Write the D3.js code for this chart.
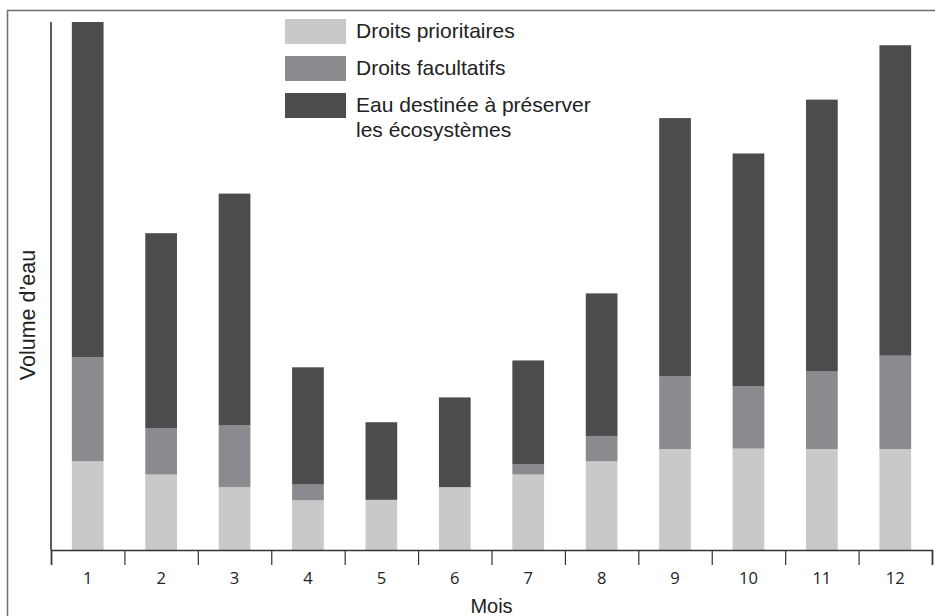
<!DOCTYPE html>
<html><head><meta charset="utf-8">
<script src="https://cdn.jsdelivr.net/npm/d3@7"></script>
<style>html,body{margin:0;padding:0;background:#fff;}svg{display:block;}</style>
</head><body>
<script>
const months = ["1","2","3","4","5","6","7","8","9","10","11","12"];
const droitsPrioritaires = [16.8, 14.3, 11.9, 9.4, 9.5, 11.9, 14.3, 16.8, 19.1, 19.2, 19.1, 19.1];
const droitsFacultatifs  = [19.7, 8.8, 11.7, 3.0, 0, 0, 1.9, 4.8, 13.8, 11.8, 14.8, 17.7];
const eauEcosystemes     = [63.5, 36.9, 43.9, 22.2, 14.7, 17.0, 19.7, 27.0, 48.9, 44.1, 51.4, 58.8];
const seriesNames = ["Droits prioritaires", "Droits facultatifs", "Eau destinée à préserver|les écosystèmes"];
const seriesKeys = ["p", "f", "e"];
const colors = ["#c8c9cb", "#8a8b8e", "#4b4c4e"];
const yMax = 100;

const W = 935, H = 616;
const svg = d3.select("body").append("svg").attr("width", W).attr("height", H);

// frame
svg.append("path").attr("d", `M7.5,${H} V10.5 H${W}`).attr("fill","none").attr("stroke","#6d6e70").attr("stroke-width",1.5);

const mLeft = 51, mRight = 932, mTop = 22, mBottom = 550;
const x = d3.scaleBand().domain(months).range([mLeft, mRight]).paddingInner(0.568).paddingOuter(0.284);
const y = d3.scaleLinear().domain([0, yMax]).range([mBottom, mTop]);

const table = months.map((m, i) => ({month: m, p: droitsPrioritaires[i], f: droitsFacultatifs[i], e: eauEcosystemes[i]}));
const stacked = d3.stack().keys(seriesKeys)(table);

svg.append("g").selectAll("g").data(stacked).join("g")
  .attr("fill", (d, i) => colors[i])
  .selectAll("rect").data(d => d).join("rect")
  .attr("x", d => x(d.data.month))
  .attr("width", x.bandwidth())
  .attr("y", d => y(d[1]))
  .attr("height", d => Math.max(0, y(d[0]) - y(d[1])));

// y axis line
svg.append("line").attr("x1", mLeft).attr("x2", mLeft).attr("y1", mTop).attr("y2", mBottom)
  .attr("stroke", "#333").attr("stroke-width", 1.6);

// x axis: boundary ticks
const xb = d3.scaleLinear().domain([0, 12]).range([mLeft, mRight]);
const gx = svg.append("g").attr("transform", `translate(0,${mBottom})`)
  .call(d3.axisBottom(xb).tickValues(d3.range(0, 13)).tickSize(15).tickFormat(""));
gx.select(".domain").attr("stroke", "#333").attr("stroke-width", 1.6);
gx.selectAll(".tick line").attr("stroke", "#333").attr("stroke-width", 1.2);

// x labels
const gl = svg.append("g").attr("transform", `translate(0,${mBottom})`)
  .call(d3.axisBottom(x).tickSize(0).tickPadding(22));
gl.select(".domain").remove();
gl.selectAll(".tick text").attr("font-family", "'Open Sans', sans-serif").attr("font-size", 16.5).attr("fill", "#222");

svg.append("text").attr("x", (mLeft + mRight) / 2).attr("y", 613).attr("text-anchor", "middle")
  .attr("font-family", "'Liberation Sans', Arial, sans-serif").attr("font-size", 20).attr("fill", "#222").text("Mois");

svg.append("text").attr("transform", `translate(35,315) rotate(-90)`).attr("text-anchor", "middle")
  .attr("font-family", "'Liberation Sans', Arial, sans-serif").attr("font-size", 21.5).attr("fill", "#222").text("Volume d’eau");

// legend
const lg = svg.append("g");
const swY = [19, 56, 93];
seriesNames.forEach((name, i) => {
  lg.append("rect").attr("x", 285).attr("y", swY[i]).attr("width", 61).attr("height", 25).attr("fill", colors[i]);
  const t = lg.append("text").attr("x", 356).attr("y", swY[i] + 18.5)
    .attr("font-family", "'Liberation Sans', Arial, sans-serif").attr("font-size", 21).attr("fill", "#222");
  name.split("|").forEach((line, j) => {
    t.append("tspan").attr("x", 356).attr("dy", j === 0 ? 0 : 25).text(line);
  });
});
</script>
</body></html>
